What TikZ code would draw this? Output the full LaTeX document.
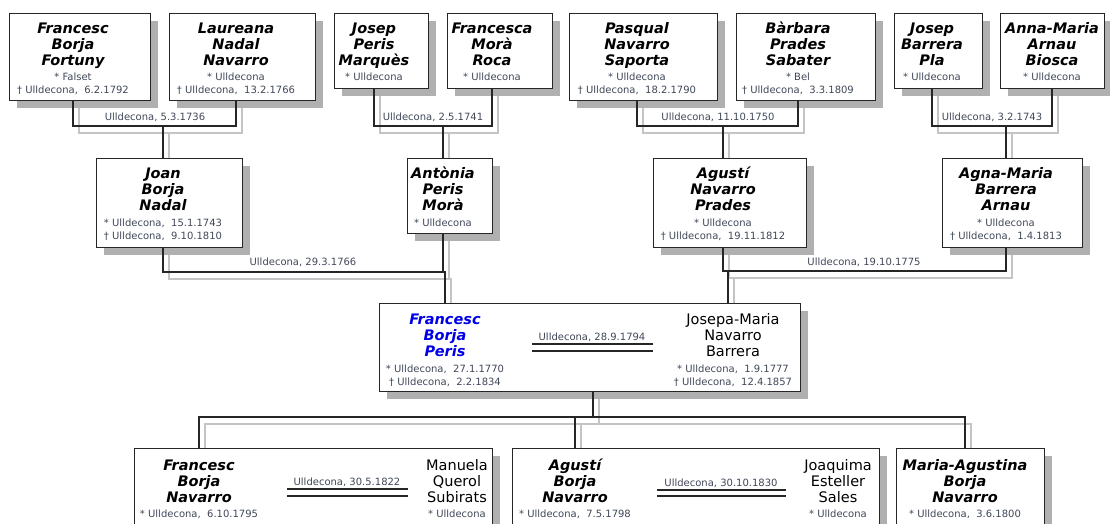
\documentclass[tikz,border=0pt]{standalone}
\usepackage{fontspec}
\setmainfont{DejaVu Sans}
\usetikzlibrary{shadows,backgrounds}
\definecolor{vora}{HTML}{262626}
\definecolor{ombra}{HTML}{B0B0B0}
\definecolor{ombrall}{HTML}{C4C4C4}
\definecolor{gris}{HTML}{404858}
\definecolor{blau}{HTML}{0000E6}
\newcommand{\nomfont}{\fontsize{14.5}{16}\selectfont\bfseries\itshape}
\newcommand{\conjfont}{\fontsize{14.5}{16}\selectfont}
\newcommand{\petitfont}{\fontsize{10}{13}\selectfont}
% linia negra amb la seva ombra grisa
\newcommand{\lligam}[1]{%
  \begin{scope}[on background layer]
    \draw[linia ombra, transform canvas={xshift=6pt,yshift=-7pt}] #1;
  \end{scope}
  \draw[linia] #1;}
\tikzset{
  caixa/.style={draw=vora, line width=1.3pt, fill=white, anchor=north west, inner sep=0pt,
    drop shadow={shadow xshift=7pt, shadow yshift=-7pt, fill=ombra, opacity=1}},
  nom/.style={font=\nomfont, align=center, anchor=base, inner sep=0pt},
  conjuge/.style={font=\conjfont, align=center, anchor=base, inner sep=0pt},
  dades/.style={font=\petitfont, text=gris, align=center, anchor=base, inner sep=0pt},
  casament/.style={font=\petitfont, text=gris, anchor=base, inner sep=0pt},
  linia/.style={draw=vora, line width=1.3pt},
  linia ombra/.style={draw=ombrall, line width=1.3pt},
  doble/.style={draw=vora, line width=1.2pt}
}
\begin{document}
\begin{tikzpicture}[x=1pt,y=-1pt]
\useasboundingbox (0,0) rectangle (1110,524);
% Besavis (la y dels textos es la de la darrera linia)
\node[caixa, minimum width=141pt, minimum height=87pt] (A) at (9,13) {};
\node[nom] (tA) at (73,66) {Francesc\\Borja\\Fortuny};
\node[dades] (dA) at (73,94) {* Falset\\† Ulldecona,~~6.2.1792};
\node[caixa, minimum width=146pt, minimum height=87pt] (B) at (169,13) {};
\node[nom] (tB) at (236,66) {Laureana\\Nadal\\Navarro};
\node[dades] (dB) at (236,94) {* Ulldecona\\† Ulldecona,~~13.2.1766};
\node[caixa, minimum width=94pt, minimum height=75pt] (C) at (334,13) {};
\node[nom] (tC) at (374,66) {Josep\\Peris\\Marquès};
\node[dades] (dC) at (374,81) {* Ulldecona};
\node[caixa, minimum width=105pt, minimum height=75pt] (D) at (447,13) {};
\node[nom] (tD) at (492,66) {Francesca\\Morà\\Roca};
\node[dades] (dD) at (492,81) {* Ulldecona};
\node[caixa, minimum width=148pt, minimum height=87pt] (E) at (569,13) {};
\node[nom] (tE) at (637,66) {Pasqual\\Navarro\\Saporta};
\node[dades] (dE) at (637,94) {* Ulldecona\\† Ulldecona,~~18.2.1790};
\node[caixa, minimum width=139pt, minimum height=87pt] (F) at (736,13) {};
\node[nom] (tF) at (798,66) {Bàrbara\\Prades\\Sabater};
\node[dades] (dF) at (798,94) {* Bel\\† Ulldecona,~~3.3.1809};
\node[caixa, minimum width=88pt, minimum height=75pt] (G) at (894,13) {};
\node[nom] (tG) at (932,66) {Josep\\Barrera\\Pla};
\node[dades] (dG) at (932,81) {* Ulldecona};
\node[caixa, minimum width=104pt, minimum height=75pt] (H) at (1000,13) {};
\node[nom] (tH) at (1052,66) {Anna-Maria\\Arnau\\Biosca};
\node[dades] (dH) at (1052,81) {* Ulldecona};
% Avis
\node[caixa, minimum width=146pt, minimum height=89pt] (I) at (96,158) {};
\node[nom] (tI) at (163,210) {Joan\\Borja\\Nadal};
\node[dades] (dI) at (163,239) {* Ulldecona,~~15.1.1743\\† Ulldecona,~~9.10.1810};
\node[caixa, minimum width=85pt, minimum height=75pt] (J) at (407,158) {};
\node[nom] (tJ) at (443,210) {Antònia\\Peris\\Morà};
\node[dades] (dJ) at (443,226) {* Ulldecona};
\node[caixa, minimum width=153pt, minimum height=89pt] (K) at (653,158) {};
\node[nom] (tK) at (723,210) {Agustí\\Navarro\\Prades};
\node[dades] (dK) at (723,239) {* Ulldecona\\† Ulldecona,~~19.11.1812};
\node[caixa, minimum width=140pt, minimum height=89pt] (L) at (942,158) {};
\node[nom] (tL) at (1006,210) {Agna-Maria\\Barrera\\Arnau};
\node[dades] (dL) at (1006,239) {* Ulldecona\\† Ulldecona,~~1.4.1813};
% Parella central
\node[caixa, minimum width=421pt, minimum height=88pt] (M) at (379,303) {};
\node[nom, text=blau] (tM1) at (445,356) {Francesc\\Borja\\Peris};
\node[dades] (dM1) at (445,385) {* Ulldecona,~~27.1.1770\\† Ulldecona,~~2.2.1834};
\node[casament] (mM) at (592,340) {Ulldecona, 28.9.1794};
\draw[doble] (532,344) -- (653,344);
\draw[doble] (532,351) -- (653,351);
\node[conjuge] (tM2) at (733,356) {Josepa-Maria\\Navarro\\Barrera};
\node[dades] (dM2) at (733,385) {* Ulldecona,~~1.9.1777\\† Ulldecona,~~12.4.1857};
% Fills
\node[caixa, minimum width=358pt, minimum height=90pt] (P) at (134,448) {};
\node[nom] (tP) at (199,502) {Francesc\\Borja\\Navarro};
\node[dades] (dP) at (199,517) {* Ulldecona,~~6.10.1795};
\node[casament] (mP) at (347,485) {Ulldecona, 30.5.1822};
\draw[doble] (287,489) -- (408,489);
\draw[doble] (287,496) -- (408,496);
\node[conjuge] (tP2) at (457,502) {Manuela\\Querol\\Subirats};
\node[dades] (dP2) at (457,517) {* Ulldecona};
\node[caixa, minimum width=367pt, minimum height=90pt] (N) at (512,448) {};
\node[nom] (tN) at (575,502) {Agustí\\Borja\\Navarro};
\node[dades] (dN) at (575,517) {* Ulldecona,~~7.5.1798};
\node[casament] (mN) at (721,486) {Ulldecona, 30.10.1830};
\draw[doble] (657,490) -- (786,490);
\draw[doble] (657,496) -- (786,496);
\node[conjuge] (tN2) at (838,502) {Joaquima\\Esteller\\Sales};
\node[dades] (dN2) at (838,517) {* Ulldecona};
\node[caixa, minimum width=148pt, minimum height=90pt] (O) at (896,448) {};
\node[nom] (tO) at (965,502) {Maria-Agustina\\Borja\\Navarro};
\node[dades] (dO) at (965,517) {* Ulldecona,~~3.6.1800};
% Unions dels besavis
\coordinate (uAB) at (155,126);
\coordinate (uCD) at (433,126);
\coordinate (uEF) at (718,126);
\coordinate (uGH) at (992,126);
\node[casament] (mAB) at (155,121) {Ulldecona, 5.3.1736};
\node[casament] (mCD) at (433,121) {Ulldecona, 2.5.1741};
\node[casament] (mEF) at (718,121) {Ulldecona, 11.10.1750};
\node[casament] (mGH) at (992,121) {Ulldecona, 3.2.1743};
\lligam{(A.south -| tA) |- (uAB) -| (B.south -| tB)}
\lligam{(uAB -| tI) -- (I.north -| tI)}
\lligam{(C.south -| tC) |- (uCD) -| (D.south -| tD)}
\lligam{(uCD -| tJ) -- (J.north -| tJ)}
\lligam{(E.south -| tE) |- (uEF) -| (F.south -| tF)}
\lligam{(uEF -| tK) -- (K.north -| tK)}
\lligam{(G.south -| tG) |- (uGH) -| (H.south -| tH)}
\lligam{(uGH -| tL) -- (L.north -| tL)}
% Unions dels avis
\coordinate (uIJ) at (303,272);
\coordinate (uKL) at (864,271);
\coordinate (eKL) at (728,271);
\node[casament] (mIJ) at (303,265) {Ulldecona, 29.3.1766};
\node[casament] (mKL) at (864,265) {Ulldecona, 19.10.1775};
\lligam{(I.south -| tI) |- (uIJ -| tM1) -- (M.north -| tM1)}
\lligam{(J.south -| tJ) -- (uIJ -| tJ)}
\lligam{(K.south -| tK) |- (uKL) -| (L.south -| tL)}
\lligam{(eKL) -- (eKL |- M.north)}
% Fills
\coordinate (uM) at (593,417);
\lligam{(M.south -| uM) -- (uM)}
\lligam{(P.north -| tP) |- (uM) -| (O.north -| tO)}
\lligam{(uM -| tN) -- (N.north -| tN)}
\end{tikzpicture}
\end{document}
